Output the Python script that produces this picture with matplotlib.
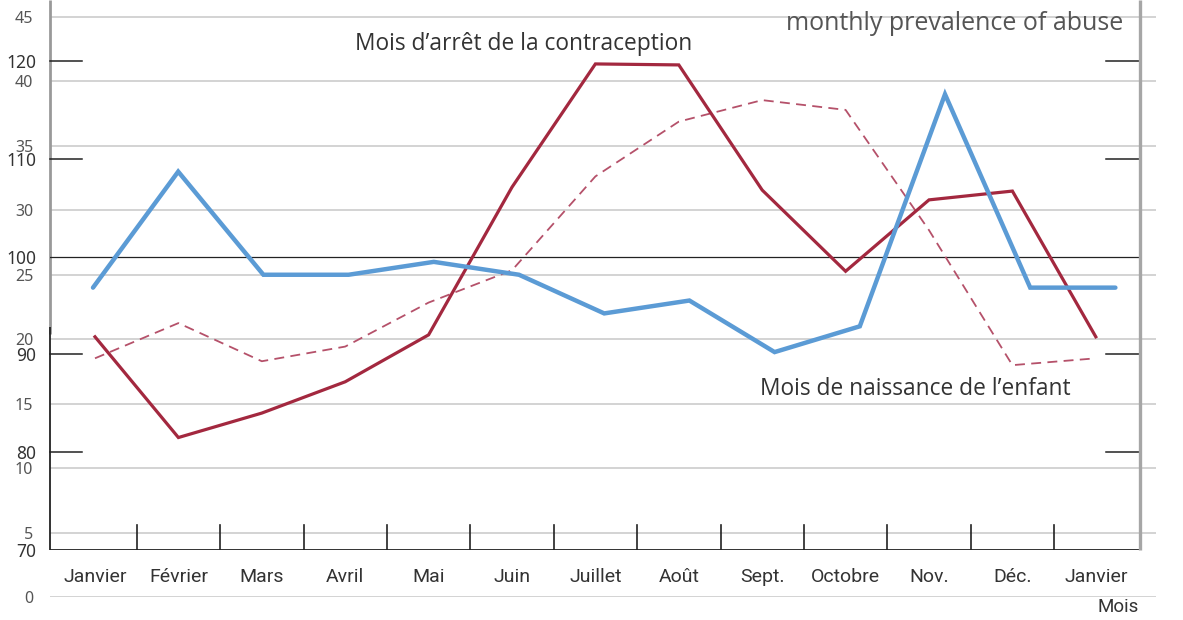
import matplotlib
matplotlib.use("Agg")
import matplotlib.pyplot as plt
import matplotlib.transforms as mtransforms

# ---------------- data ----------------
months = ["Janvier", "Février", "Mars", "Avril", "Mai", "Juin", "Juillet",
          "Août", "Sept.", "Octobre", "Nov.", "Déc.", "Janvier"]
# index (left black axis, 70-120)
arret_contraception = [91.8, 81.5, 84.0, 87.2, 92.0, 107.1, 119.7, 119.6,
                       106.8, 98.5, 105.8, 106.7, 91.8]
naissance_enfant = [89.6, 93.2, 89.3, 90.8, 95.3, 98.6, 108.2, 113.8,
                    116.0, 115.0, 102.7, 88.9, 89.6]
# monthly prevalence of abuse (grey axis, 0-45)
prevalence_abuse = [24, 33, 25, 25, 26, 25, 22, 23, 19, 21, 39, 24, 24]

index_ticks = [70, 80, 90, 100, 110, 120]
index_marks = [80, 90, 110, 120]
prev_ticks = [0, 5, 10, 15, 20, 25, 30, 35, 40, 45]

# ---------------- layout helpers (pixels) ----------------
W, H = 1183, 620
def rect(x0, x1, ytop, ybot):
    return [x0 / W, (H - ybot) / H, (x1 - x0) / W, (ybot - ytop) / H]

RED = "#a3283f"
RED_D = "#b5516a"
BLUE = "#5b9bd5"
GRID = "#d3d3d3"
TXT = "#333333"
TXT2 = "#555555"
FONT = "Open Sans"
NUMFONT = "Noto Sans"

fig = plt.figure(figsize=(W / 100, H / 100), dpi=100)
fig.patch.set_facecolor("white")

# prevalence axes (grid lines + labels), 0 at y=597, 45 at y=17
ppu_prev = 12.89
ax_prev = fig.add_axes(rect(50, 1156, 0, 597))
ax_prev.set_ylim(0, 597 / ppu_prev)
ax_prev.set_xlim(0, 1)
for v in prev_ticks:
    ax_prev.axhline(v, color=GRID, lw=1.4, zorder=1)
ax_prev.set_yticks(prev_ticks)
ax_prev.set_yticklabels([str(v) for v in prev_ticks], fontsize=11.5,
                        color=TXT2, family=NUMFONT)
ax_prev.tick_params(axis="y", length=0, pad=12)
ax_prev.set_xticks([])
for s in ax_prev.spines.values():
    s.set_visible(False)
# grey left spine (upper part)
ax_prev.plot([0, 0], [20.4, 597 / ppu_prev], color="#999999", lw=2.0,
             transform=mtransforms.blended_transform_factory(ax_prev.transAxes, ax_prev.transData),
             clip_on=False, solid_capstyle="butt")

# index axes (red lines), 70 at y=550, 120 at y=61
ppu_idx = 9.78
ax = fig.add_axes(rect(50, 1140, 0, 550))
ax.patch.set_alpha(0)
x0_lab, step_lab = 95, 83.4
ax.set_xlim((50 - x0_lab) / step_lab, (1140 - x0_lab) / step_lab)
ax.set_ylim(70, 70 + 550 / ppu_idx)
xs = list(range(len(months)))
ax.plot(xs, naissance_enfant, color=RED_D, lw=1.3, dashes=(5.5, 3.5), zorder=3)
ax.plot(xs, arret_contraception, color=RED, lw=2.3, zorder=4,
        solid_joinstyle="miter")
ax.set_xticks(xs)
ax.set_xticklabels(months, fontsize=14, color=TXT, family="Roboto")
ax.tick_params(axis="x", length=0, pad=13)
ax.set_yticks(index_ticks)
ax.set_yticklabels([str(v) for v in index_ticks], fontsize=12.5,
                   color=TXT, family=NUMFONT)
ax.tick_params(axis="y", length=0, pad=10)
for s in ax.spines.values():
    s.set_visible(False)
bt = mtransforms.blended_transform_factory(ax.transAxes, ax.transData)
ax.axhline(70, color="#222222", lw=1.3, zorder=5)
ax.axhline(100, color="#222222", lw=0.9, zorder=2)
ax.plot([0, 0], [70, 92.8], color="#222222", lw=1.3, transform=bt,
        clip_on=False, solid_capstyle="butt")
ax.plot([1, 1], [70, 70 + 550 / ppu_idx], color="#a6a6a6", lw=2.4,
        transform=bt, clip_on=False, solid_capstyle="butt", zorder=6)
for v in index_marks:
    ax.plot([0, 32 / 1090], [v, v], color="#222222", lw=1.1, transform=bt,
            clip_on=False)
    ax.plot([1056 / 1090, 1], [v, v], color="#222222", lw=1.1, transform=bt,
            clip_on=False)
for b in range(len(months) - 1):
    ax.plot([b + 0.5, b + 0.5], [70, 72.6], color="#222222", lw=1.2)

# blue line on prevalence scale, own horizontal spacing
ax_b = fig.add_axes(rect(50, 1156, 0, 597))
ax_b.patch.set_alpha(0)
x0_b, step_b = 93, 85.2
ax_b.set_xlim((50 - x0_b) / step_b, (1156 - x0_b) / step_b)
ax_b.set_ylim(0, 597 / ppu_prev)
ax_b.plot(list(range(len(prevalence_abuse))), prevalence_abuse, color=BLUE,
          lw=3.2, solid_capstyle="round", solid_joinstyle="miter", zorder=5)
ax_b.axis("off")

# texts
fig.text(355 / W, 1 - 44 / H, "Mois d’arrêt de la contraception",
         fontsize=16.4, color=TXT, family=FONT, ha="left", va="center")
fig.text(1123 / W, 1 - 24 / H, "monthly prevalence of abuse",
         fontsize=18, color=TXT2, family=FONT, ha="right", va="center")
fig.text(760 / W, 1 - 389 / H, "Mois de naissance de l’enfant",
         fontsize=16.4, color=TXT, family=FONT, ha="left", va="center")
fig.text(1118 / W, 1 - 607 / H, "Mois", fontsize=13.5, color=TXT,
         family="Roboto", ha="center", va="center")

fig.savefig("out.png", dpi=100, facecolor="white")
